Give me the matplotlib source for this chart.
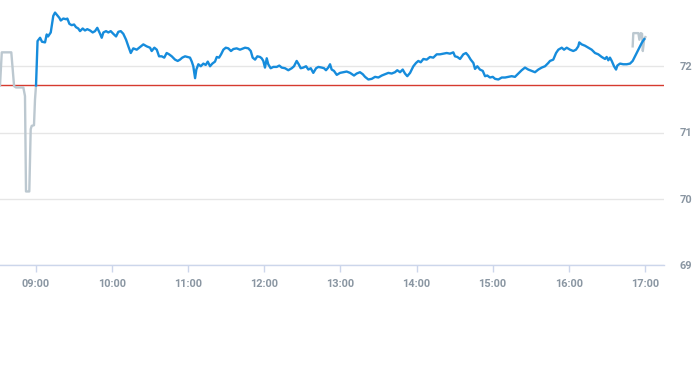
import matplotlib
matplotlib.use("Agg")
import matplotlib.pyplot as plt

# minutes relative to 09:00
pre_t = [-28.4, -27.0, -19.5, -17.3, -15.8, -10.0, -8.7, -7.9, -5.3, -4.2, -3.4, -1.6, -0.8, 0.0]
pre_v = [71.71, 72.21, 72.21, 71.70, 71.68, 71.68, 71.55, 70.11, 70.11, 71.05, 71.10, 71.11, 71.50, 71.71]

reg_t = [0.0, 1.2, 3.2, 4.7, 7.1, 8.4, 9.5, 11.6, 13.6, 15.0, 16.3, 18.4, 19.5, 21.5, 23.7, 24.7,
         26.3, 28.1, 30.0, 31.5, 33.3, 34.7, 36.8, 38.6, 40.4, 42.6, 44.7, 46.5, 48.3, 50.5, 51.8,
         53.1, 55.2, 57.0, 58.9, 60.9, 63.1, 64.9, 66.8, 68.8, 71.0, 72.8, 74.7, 76.7, 79.4, 82.0,
         84.6, 87.3, 89.9, 91.2, 93.3, 95.2, 97.0, 99.1, 101.1, 103.0, 104.9, 107.0, 109.6, 111.7,
         113.5, 115.3, 117.5, 119.6, 121.4, 122.8, 124.0, 125.4, 126.4, 128.0, 129.9, 131.9, 133.8,
         135.4, 137.2, 139.0, 141.1, 142.5, 144.3, 145.9, 147.7, 149.6, 151.6, 153.7, 155.6, 158.2,
         160.8, 163.4, 164.8, 167.4, 169.3, 170.8, 172.7, 174.5, 176.6, 177.9, 179.2, 180.5, 181.9,
         183.1, 185.0, 187.1, 189.8, 191.8, 193.7, 196.3, 198.9, 201.6, 203.4, 205.5, 207.1, 208.7,
         210.7, 212.9, 214.7, 216.6, 218.6, 220.8, 222.6, 225.2, 227.1, 228.6, 230.4, 231.8, 233.1,
         234.9, 237.1, 239.7, 242.3, 244.9, 247.6, 250.7, 252.8, 255.4, 257.6, 259.4, 262.0, 264.7,
         267.3, 269.9, 272.6, 275.2, 277.8, 280.4, 283.0, 284.8, 287.0, 289.1, 290.9, 292.7, 294.9,
         297.5, 299.6, 301.4, 303.3, 305.4, 308.0, 310.6, 313.2, 315.9, 318.5, 321.1, 323.8, 326.4,
         329.0, 330.3, 332.2, 334.3, 336.9, 339.0, 340.8, 342.7, 344.8, 346.1, 347.9, 350.0, 352.2,
         354.0, 355.8, 357.9, 360.1, 361.9, 364.5, 367.2, 369.8, 372.4, 375.0, 377.6, 380.2, 382.9,
         385.5, 388.1, 390.8, 393.4, 396.0, 398.7, 401.3, 403.9, 405.2, 407.8, 410.0, 411.8, 414.5,
         416.3, 418.4, 421.0, 423.6, 425.7, 427.5, 428.3, 430.2, 432.8, 435.4, 438.1, 440.7, 443.3,
         446.0, 448.6, 449.9, 451.2, 452.5, 453.9, 455.7, 457.3, 458.3, 460.4, 463.0, 465.7, 468.3,
         470.4, 473.0, 475.6, 477.5, 478.8, 479.6]
reg_v = [71.71, 72.38, 72.43, 72.37, 72.36, 72.48, 72.45, 72.51, 72.76, 72.81, 72.78, 72.73, 72.69,
         72.72, 72.71, 72.72, 72.64, 72.62, 72.63, 72.59, 72.57, 72.53, 72.57, 72.54, 72.56, 72.54,
         72.51, 72.53, 72.58, 72.49, 72.43, 72.51, 72.53, 72.51, 72.53, 72.49, 72.45, 72.52, 72.53,
         72.49, 72.40, 72.30, 72.20, 72.27, 72.25, 72.29, 72.33, 72.30, 72.28, 72.23, 72.28, 72.25,
         72.15, 72.15, 72.13, 72.20, 72.18, 72.15, 72.10, 72.08, 72.10, 72.13, 72.15, 72.14, 72.13,
         72.07, 72.00, 71.82, 71.95, 72.03, 72.00, 72.04, 72.02, 72.07, 72.00, 72.04, 72.07, 72.14,
         72.13, 72.18, 72.25, 72.28, 72.27, 72.23, 72.26, 72.27, 72.25, 72.27, 72.28, 72.27, 72.23,
         72.13, 72.10, 72.15, 72.14, 72.12, 72.08, 71.98, 72.12, 72.03, 71.97, 71.99, 71.99, 72.01,
         71.98, 71.97, 71.94, 71.97, 72.00, 72.08, 72.03, 71.97, 71.98, 72.00, 71.95, 71.97, 71.90,
         71.97, 71.99, 71.98, 71.97, 71.94, 71.98, 72.03, 71.95, 71.93, 71.87, 71.90, 71.91, 71.92,
         71.90, 71.86, 71.89, 71.91, 71.88, 71.84, 71.80, 71.81, 71.84, 71.83, 71.86, 71.88, 71.90,
         71.89, 71.91, 71.94, 71.91, 71.95, 71.89, 71.85, 71.90, 72.00, 72.05, 72.08, 72.06, 72.11,
         72.10, 72.14, 72.13, 72.18, 72.18, 72.19, 72.20, 72.19, 72.21, 72.15, 72.14, 72.11, 72.18,
         72.20, 72.16, 72.10, 72.05, 71.96, 72.00, 71.95, 71.93, 71.85, 71.86, 71.83, 71.84, 71.81,
         71.80, 71.83, 71.83, 71.84, 71.85, 71.84, 71.89, 71.94, 71.98, 71.95, 71.93, 71.91, 71.95,
         71.98, 72.00, 72.05, 72.08, 72.10, 72.20, 72.25, 72.28, 72.25, 72.28, 72.25, 72.23, 72.25,
         72.30, 72.36, 72.33, 72.31, 72.28, 72.25, 72.20, 72.18, 72.14, 72.11, 72.14, 72.09, 72.13,
         72.08, 72.00, 71.95, 72.01, 72.04, 72.03, 72.03, 72.04, 72.08, 72.18, 72.28, 72.35, 72.39,
         72.41]

post_t = [470.4, 470.9, 474.9, 475.7, 476.8, 477.8, 478.4, 479.4, 480.4]
post_v = [72.30, 72.50, 72.50, 72.40, 72.50, 72.49, 72.23, 72.40, 72.44]

prev_close = 71.71
y_ticks = [69, 70, 71, 72]
x_ticks = [0, 60, 120, 180, 240, 300, 360, 420, 480]
x_labels = ["09:00", "10:00", "11:00", "12:00", "13:00", "14:00", "15:00", "16:00", "17:00"]

W, H = 693, 365
fig = plt.figure(figsize=(W / 100, H / 100), dpi=100)
ax = fig.add_axes([0, 100 / H, 664 / W, 265 / H])

label_color = "#8a96a2"
font = dict(family="Roboto", weight="bold", size=7.9)

ax.plot(pre_t, pre_v, color="#bcc8d0", lw=1.7, solid_joinstyle="round", zorder=3)
ax.plot(post_t, post_v, color="#bcc8d0", lw=1.7, solid_joinstyle="round", zorder=3)
ax.plot(reg_t, reg_v, color="#168cdc", lw=1.7, solid_joinstyle="round", zorder=4)
ax.axhline(prev_close, color="#d63a2f", lw=1.0, zorder=2)

ax.set_xlim(-28.4, 495.1)
ax.set_ylim(69, 73)

for s in ["top", "left", "right"]:
    ax.spines[s].set_visible(False)
ax.spines["bottom"].set_color("#ccd6eb")
ax.spines["bottom"].set_linewidth(1.0)

ax.set_yticks(y_ticks)
ax.yaxis.tick_right()
ax.tick_params(axis="y", length=0, pad=11, labelcolor=label_color)
ax.grid(axis="y", color="#e6e6e6", lw=1.0, zorder=0)
ax.set_xticks(x_ticks)
ax.set_xticklabels(x_labels)
ax.tick_params(axis="x", length=5, width=1.0, color="#ccd6eb", pad=5, labelcolor=label_color)
for lab in ax.get_xticklabels() + ax.get_yticklabels():
    lab.set_fontfamily(font["family"])
    lab.set_fontweight(font["weight"])
    lab.set_fontsize(font["size"])
ax.set_axisbelow(True)

fig.savefig("out.png", dpi=100)
